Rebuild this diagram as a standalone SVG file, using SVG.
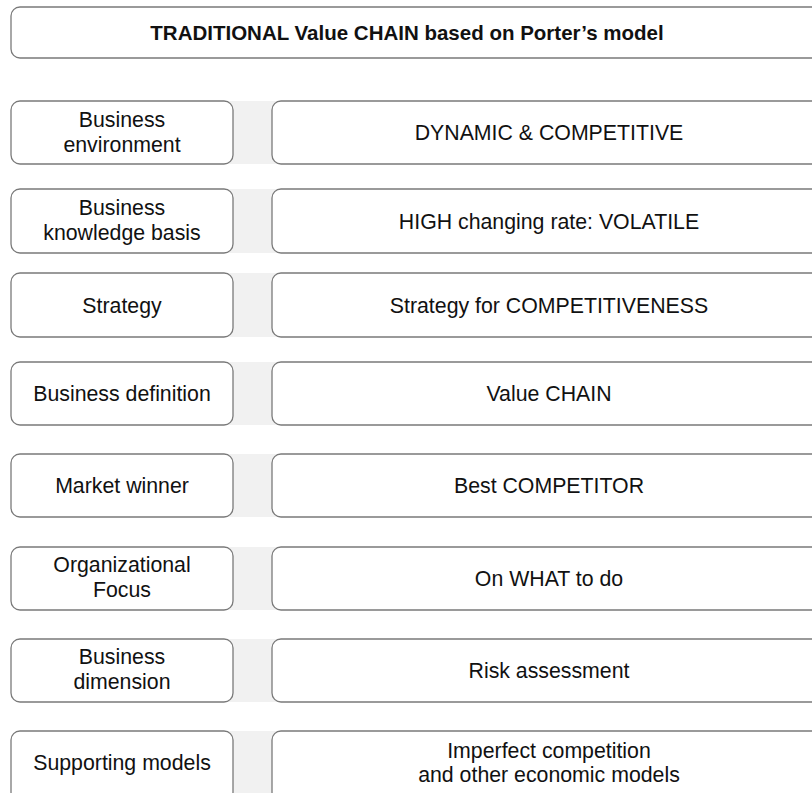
<svg xmlns="http://www.w3.org/2000/svg" width="812" height="793" viewBox="0 0 812 793">
<style>
.box{fill:#fff;stroke:#7a7a7a;stroke-width:1.3}
.band{fill:#f1f1f1}
text{font-family:"Liberation Sans",Arial,sans-serif;font-size:21.3px;fill:#111;text-anchor:middle}
.title{font-weight:bold;font-size:20.5px}
</style>
<rect width="812" height="793" fill="#fff"/>
<g id="title">
<rect class="box" x="11" y="7" width="830" height="51" rx="9"/>
<text class="title" x="407" y="39.5">TRADITIONAL Value CHAIN based on Porter’s model</text>
</g>
<g id="bands">
<rect class="band" x="225" y="101" width="55" height="63"/>
<rect class="band" x="225" y="189" width="55" height="64"/>
<rect class="band" x="225" y="273" width="55" height="64"/>
<rect class="band" x="225" y="362" width="55" height="63"/>
<rect class="band" x="225" y="454" width="55" height="63"/>
<rect class="band" x="225" y="547" width="55" height="63"/>
<rect class="band" x="225" y="639" width="55" height="63"/>
<rect class="band" x="225" y="731" width="55" height="70"/>
</g>
<g id="row1">
<rect class="box" x="11" y="101" width="222" height="63" rx="9"/>
<text x="122" y="126.5">Business</text><text x="122" y="151.5">environment</text>
<rect class="box" x="272" y="101" width="560" height="63" rx="9"/>
<text x="549" y="140">DYNAMIC &amp; COMPETITIVE</text>
</g>
<g id="row2">
<rect class="box" x="11" y="189" width="222" height="64" rx="9"/>
<text x="122" y="214.5">Business</text><text x="122" y="239.5">knowledge basis</text>
<rect class="box" x="272" y="189" width="560" height="64" rx="9"/>
<text x="549" y="228.5">HIGH changing rate: VOLATILE</text>
</g>
<g id="row3">
<rect class="box" x="11" y="273" width="222" height="64" rx="9"/>
<text x="122" y="312.5">Strategy</text>
<rect class="box" x="272" y="273" width="560" height="64" rx="9"/>
<text x="549" y="312.5">Strategy for COMPETITIVENESS</text>
</g>
<g id="row4">
<rect class="box" x="11" y="362" width="222" height="63" rx="9"/>
<text x="122" y="401">Business definition</text>
<rect class="box" x="272" y="362" width="560" height="63" rx="9"/>
<text x="549" y="401">Value CHAIN</text>
</g>
<g id="row5">
<rect class="box" x="11" y="454" width="222" height="63" rx="9"/>
<text x="122" y="493">Market winner</text>
<rect class="box" x="272" y="454" width="560" height="63" rx="9"/>
<text x="549" y="493">Best COMPETITOR</text>
</g>
<g id="row6">
<rect class="box" x="11" y="547" width="222" height="63" rx="9"/>
<text x="122" y="572">Organizational</text><text x="122" y="597">Focus</text>
<rect class="box" x="272" y="547" width="560" height="63" rx="9"/>
<text x="549" y="586">On WHAT to do</text>
</g>
<g id="row7">
<rect class="box" x="11" y="639" width="222" height="63" rx="9"/>
<text x="122" y="664">Business</text><text x="122" y="689">dimension</text>
<rect class="box" x="272" y="639" width="560" height="63" rx="9"/>
<text x="549" y="678">Risk assessment</text>
</g>
<g id="row8">
<rect class="box" x="11" y="731" width="222" height="70" rx="9"/>
<text x="122" y="769.5">Supporting models</text>
<rect class="box" x="272" y="731" width="560" height="70" rx="9"/>
<text x="549" y="758">Imperfect competition</text><text x="549" y="782">and other economic models</text>
</g>
</svg>
